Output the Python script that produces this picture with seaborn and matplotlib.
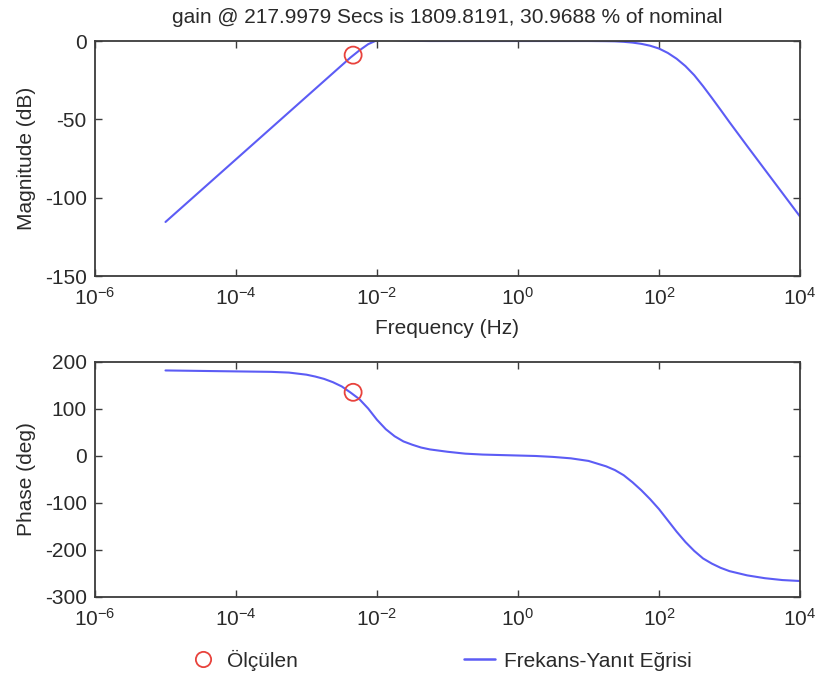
import matplotlib
matplotlib.use("Agg")
import matplotlib.pyplot as plt
import numpy as np
import pandas as pd
import seaborn as sns
from matplotlib.lines import Line2D
from matplotlib.ticker import NullLocator

line_color = "#5c5cf5"
marker_color = "#e8423c"
frame_color = "#3c3c3c"
text_color = "#2a2a2a"

# frequency grid as powers of ten
freq_exp = [-5.0, -4.75, -4.5, -4.25, -4.0, -3.75, -3.5, -3.25, -3.0,
            -2.875, -2.75, -2.625, -2.5, -2.375, -2.25, -2.125, -2.0,
            -1.875, -1.75, -1.625, -1.5, -1.375, -1.25,
            -1.0, -0.75, -0.5, -0.25, 0.0, 0.25, 0.5, 0.75, 1.0,
            1.25, 1.375, 1.5, 1.625, 1.75, 1.875, 2.0, 2.125, 2.25,
            2.375, 2.5, 2.625, 2.75, 2.875, 3.0,
            3.25, 3.5, 3.75, 4.0]

mag_db = [-115.5, -105.5, -95.5, -85.5, -75.5, -65.5, -55.5, -45.5, -35.5,
          -30.5, -25.5, -20.5, -15.5, -10.5, -6.0, -2.0, 0.5,
          0.8, 0.6, 0.3, 0.15, 0.05, 0.0,
          0.0, 0.0, 0.0, 0.0, 0.0, 0.0, 0.0, 0.0, 0.0,
          -0.1, -0.2, -0.5, -1.0, -1.8, -3.0, -4.8, -7.6, -11.3,
          -16.0, -21.8, -28.8, -36.3, -44.0, -51.8,
          -67.0, -82.0, -97.0, -112.0]

phase_deg = [182, 181.5, 181, 180.5, 180, 179.5, 179, 177.5, 173,
             169, 164, 157, 148, 135, 121, 101, 77,
             57, 42, 31, 24, 18, 14,
             9, 5, 3, 2, 1, 0, -2, -5, -10.5,
             -22, -30, -41, -56, -73, -92, -113, -137, -161,
             -183, -202, -218, -229, -238, -245,
             -254, -260, -264, -266]

# measured point (217.9979 s period)
meas_freq = [0.004587]
meas_mag = [-9.0]
meas_phase = [135.5]

xtick_exp = [-6, -4, -2, 0, 2, 4]
mag_ticks = [-150, -100, -50, 0]
phase_ticks = [-300, -200, -100, 0, 100, 200]

title = "gain @ 217.9979 Secs is 1809.8191, 30.9688 % of nominal"
legend_labels = ["Ölçülen", "Frekans-Yanıt Eğrisi"]

sns.set_style("ticks")
plt.rcParams["font.family"] = ["Liberation Sans", "DejaVu Sans"]
plt.rcParams["mathtext.fontset"] = "custom"
plt.rcParams["mathtext.rm"] = "Liberation Sans"
plt.rcParams["mathtext.it"] = "Liberation Sans"
plt.rcParams["axes.unicode_minus"] = False
plt.rcParams["text.color"] = text_color
plt.rcParams["axes.labelcolor"] = text_color

df = pd.DataFrame({"freq": 10.0 ** np.array(freq_exp), "mag": mag_db, "phase": phase_deg})

fig = plt.figure(figsize=(8.21, 6.77), dpi=100)
ax1 = fig.add_axes([0.1157, 0.5923, 0.8587, 0.3471])
ax2 = fig.add_axes([0.1157, 0.1182, 0.8587, 0.3471])

for ax, col, mcol, yticks in [(ax1, "mag", meas_mag, mag_ticks),
                               (ax2, "phase", meas_phase, phase_ticks)]:
    sns.lineplot(data=df, x="freq", y=col, ax=ax, color=line_color, lw=1.5, legend=False)
    sns.scatterplot(x=meas_freq, y=mcol, ax=ax, s=150, facecolor="none",
                    edgecolor=marker_color, linewidth=1.3, zorder=5, legend=False)
    ax.set_xscale("log")
    ax.set_xlim(1e-6, 1e4)
    ax.set_ylim(yticks[0], yticks[-1])
    ax.set_xticks([10.0 ** e for e in xtick_exp])
    ax.set_xticklabels(["$10^{%d}$" % e for e in xtick_exp])
    ax.xaxis.set_minor_locator(NullLocator())
    ax.set_yticks(yticks)
    ax.tick_params(direction="in", top=True, right=True, length=5, width=1,
                   labelsize=15, pad=6, colors=frame_color, labelcolor=text_color)
    ax.tick_params(axis="x", pad=8)
    for s in ax.spines.values():
        s.set_linewidth(1.3)
        s.set_color(frame_color)
        s.set_zorder(6)

ax1.set_title(title, fontsize=15, pad=13, color=text_color)
ax1.set_xlabel("Frequency (Hz)", fontsize=15, labelpad=7)
ax1.set_ylabel("Magnitude (dB)", fontsize=15, labelpad=6)
ax2.set_xlabel("")
ax2.set_ylabel("Phase (deg)", fontsize=15, labelpad=6)

handles = [Line2D([], [], marker="o", ls="none", mfc="none", mec=marker_color, ms=11, mew=1.3),
           Line2D([], [], color=line_color, lw=1.8)]
fig.legend(handles, legend_labels, loc="center", bbox_to_anchor=(0.535, 0.025), ncol=2,
           frameon=False, fontsize=15, columnspacing=8.0, handlelength=1.5, handletextpad=0.4)

fig.savefig("out.png", dpi=100, facecolor="white")
